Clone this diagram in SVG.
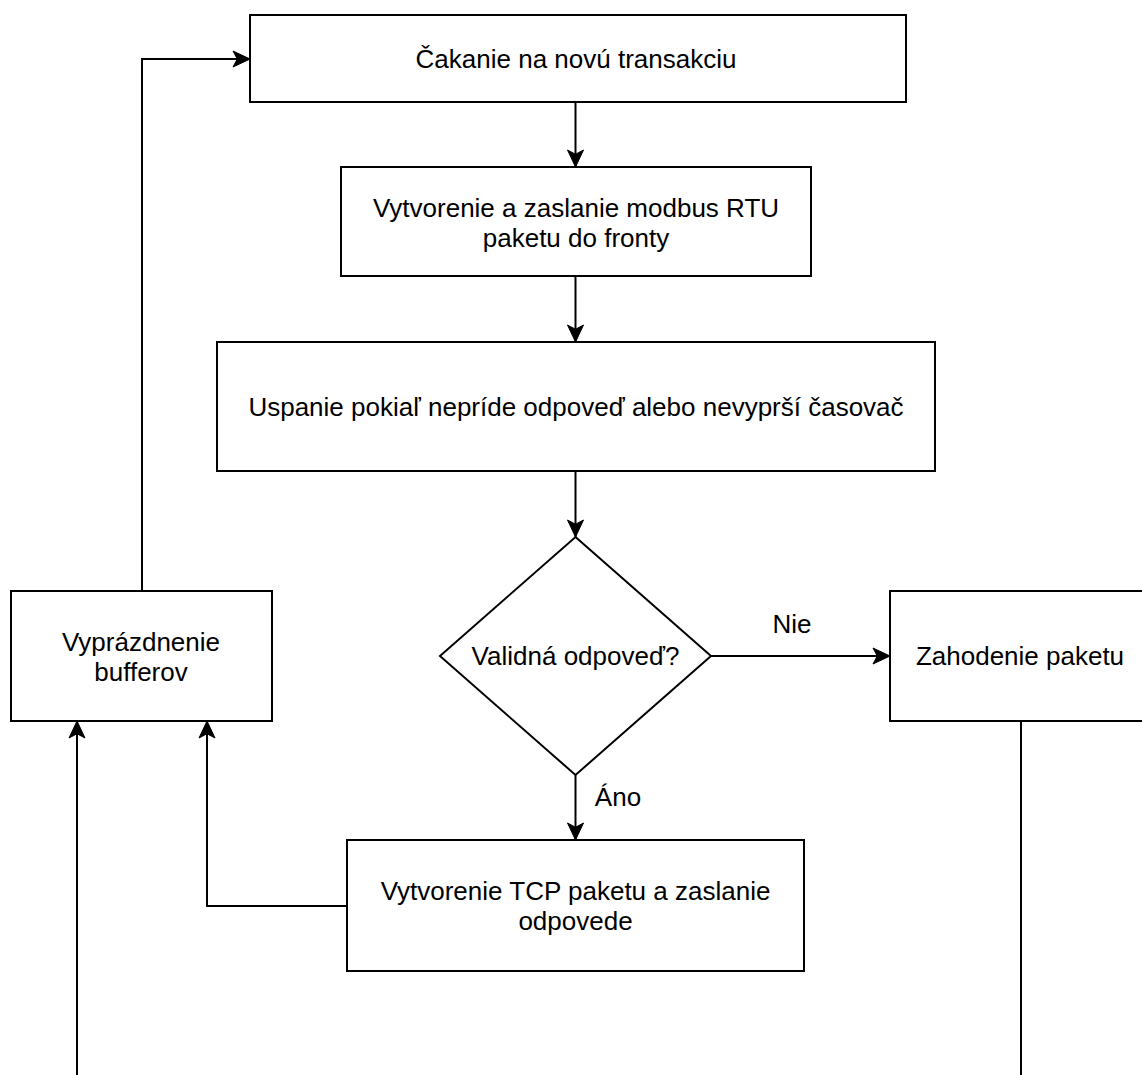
<svg xmlns="http://www.w3.org/2000/svg" width="1142" height="1075" viewBox="0 0 1142 1075">
<style>
.box{fill:#fff;stroke:#000;stroke-width:2}
.ln{fill:none;stroke:#000;stroke-width:2}
text{font-family:"Liberation Sans",Arial,Helvetica,sans-serif;font-size:26px;fill:#000;text-anchor:middle}
</style>
<defs>
<marker id="arr" viewBox="-1 -1 19 19" refX="17" refY="8.5" markerWidth="19" markerHeight="19" markerUnits="userSpaceOnUse" orient="auto">
<path d="M17,8.5 L0,0.5 L4.25,8.5 L0,16.5 Z" fill="#000" stroke="#000" stroke-width="1"/>
</marker>
</defs>
<rect width="1142" height="1075" fill="#fff"/>
<g id="connectors">
<path class="ln" d="M575.5,102 V167" marker-end="url(#arr)"/>
<path class="ln" d="M575.5,276 V342" marker-end="url(#arr)"/>
<path class="ln" d="M575.5,471 V537" marker-end="url(#arr)"/>
<path class="ln" d="M711,656 H890" marker-end="url(#arr)"/>
<path class="ln" d="M575.5,775 V840" marker-end="url(#arr)"/>
<path class="ln" d="M347,906 H207 V721" marker-end="url(#arr)"/>
<path class="ln" d="M142,591 V59 H250" marker-end="url(#arr)"/>
<path class="ln" d="M77,1080 V721" marker-end="url(#arr)"/>
<path class="ln" d="M1021,721 V1080"/>
<text x="792" y="633">Nie</text>
<text x="618" y="806">Áno</text>
</g>
<g id="n1">
<rect class="box" x="250" y="15" width="656" height="87"/>
<text x="576" y="68">Čakanie na novú transakciu</text>
</g>
<g id="n2">
<rect class="box" x="341" y="167" width="470" height="109"/>
<text x="576" y="217">Vytvorenie a zaslanie modbus RTU</text>
<text x="576" y="247">paketu do fronty</text>
</g>
<g id="n3">
<rect class="box" x="217" y="342" width="718" height="129"/>
<text x="576" y="416">Uspanie pokiaľ nepríde odpoveď alebo nevyprší časovač</text>
</g>
<g id="n4">
<path class="box" d="M575.5,537 L711,656 L575.5,775 L440,656 Z"/>
<text x="575.5" y="665">Validná odpoveď?</text>
</g>
<g id="n5">
<rect class="box" x="890" y="591" width="260" height="130"/>
<text x="1020" y="665">Zahodenie paketu</text>
</g>
<g id="n6">
<rect class="box" x="347" y="840" width="457" height="131"/>
<text x="575.5" y="900">Vytvorenie TCP paketu a zaslanie</text>
<text x="575.5" y="930">odpovede</text>
</g>
<g id="n7">
<rect class="box" x="11" y="591" width="261" height="130"/>
<text x="141" y="651">Vyprázdnenie</text>
<text x="141" y="681">bufferov</text>
</g>
</svg>
